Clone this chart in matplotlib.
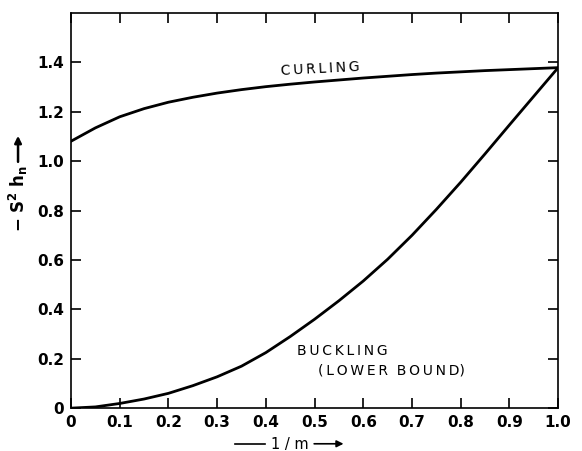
import numpy as np
import matplotlib
matplotlib.use('Agg')
import matplotlib.pyplot as plt
from matplotlib.lines import Line2D

# values
inv_m = [0.0, 0.05, 0.1, 0.15, 0.2, 0.25, 0.3, 0.35, 0.4, 0.45, 0.5,
         0.55, 0.6, 0.65, 0.7, 0.75, 0.8, 0.85, 0.9, 0.95, 1.0]
curling = [1.081, 1.135, 1.18, 1.213, 1.239, 1.259, 1.276, 1.29, 1.302, 1.312, 1.321,
           1.329, 1.337, 1.344, 1.351, 1.357, 1.362, 1.367, 1.371, 1.375, 1.379]
buckling = [0.0, 0.005, 0.019, 0.037, 0.06, 0.091, 0.127, 0.17, 0.225, 0.29, 0.36,
            0.435, 0.515, 0.603, 0.70, 0.805, 0.915, 1.03, 1.147, 1.263, 1.379]

xticks = [0, 0.1, 0.2, 0.3, 0.4, 0.5, 0.6, 0.7, 0.8, 0.9, 1.0]
xticklabels = ['0', '0.1', '0.2', '0.3', '0.4', '0.5', '0.6', '0.7', '0.8', '0.9', '1.0']
yticks = [0, 0.2, 0.4, 0.6, 0.8, 1.0, 1.2, 1.4]
yticklabels = ['0', '0.2', '0.4', '0.6', '0.8', '1.0', '1.2', '1.4']

plt.rcParams['font.family'] = 'DejaVu Sans'
plt.rcParams['mathtext.fontset'] = 'dejavusans'

fig = plt.figure(figsize=(5.82, 4.51), dpi=100)
ax = fig.add_axes([0.122, 0.095, 0.837, 0.876])

ax.plot(inv_m, curling, color='black', lw=2.0, solid_joinstyle='round')
ax.plot(inv_m, buckling, color='black', lw=2.0, solid_joinstyle='round')

ax.set_xlim(0, 1.0)
ax.set_ylim(0, 1.6)
ax.set_xticks(xticks)
ax.set_xticklabels(xticklabels)
ax.set_yticks(yticks)
ax.set_yticklabels(yticklabels)
ax.tick_params(direction='in', length=7, width=1.2, top=True, right=True,
               labelsize=11, pad=5)
for lab in ax.get_xticklabels() + ax.get_yticklabels():
    lab.set_fontweight('bold')
for s in ax.spines.values():
    s.set_linewidth(1.2)

# curve labels
sp = '\u2009'
ax.text(0.43, 1.338, sp.join('CURLING'), fontsize=10, rotation=3, ha='left', va='bottom')
ax.text(0.464, 0.205, sp.join('BUCKLING'), fontsize=10, ha='left', va='bottom')
ax.text(0.508, 0.125, '(' + sp + sp.join('LOWER') + '  ' + sp.join('BOUND') + ')',
        fontsize=10, ha='left', va='bottom')

# axis labels with arrows
fig.text(0.498, 0.014, '1 / m', fontsize=10.5, ha='center', va='center')
fig.add_artist(Line2D([0.404, 0.455], [0.016, 0.016], color='black', lw=1.2))
ax.annotate('', xy=(0.595, 0.016), xytext=(0.535, 0.016), xycoords='figure fraction',
            arrowprops=dict(arrowstyle='-|>', color='black', lw=1.2, mutation_scale=10))

fig.text(0.031, 0.56, r'$\mathbf{-\ S^{2}\ h_{n}}$', fontsize=12, rotation=90,
         ha='center', va='center')
ax.annotate('', xy=(0.031, 0.705), xytext=(0.031, 0.635), xycoords='figure fraction',
            arrowprops=dict(arrowstyle='-|>', color='black', lw=1.8, mutation_scale=10))

fig.savefig('out.png', dpi=100)
